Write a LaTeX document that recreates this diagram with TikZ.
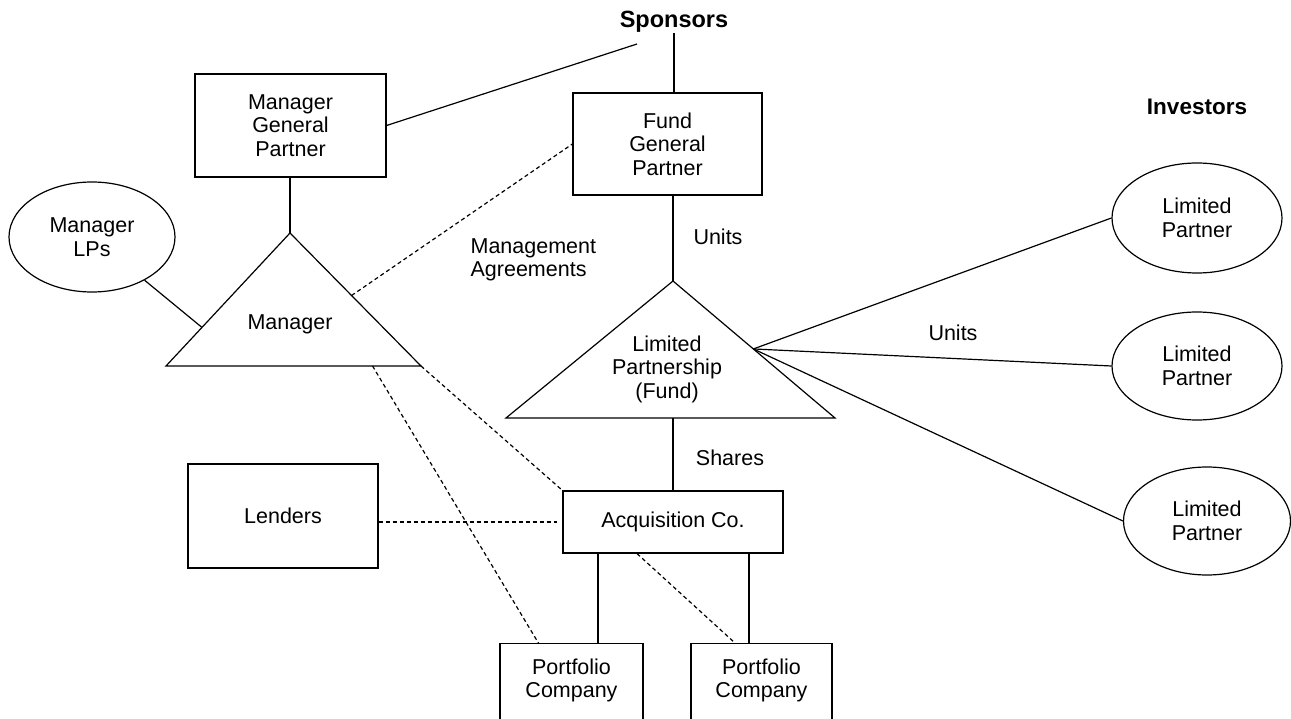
\documentclass[tikz,border=0pt]{standalone}
\usepackage{fontspec}
\setmainfont{Liberation Sans}
\usetikzlibrary{shapes,calc}

\begin{document}
\begin{tikzpicture}[x=1pt,y=-1pt,line width=1.2pt,
  every node/.style={font=\fontsize{21.5}{23.5}\selectfont,align=center,inner sep=0pt},
  box/.style={draw,rectangle},
  lp/.style={draw,ellipse},
  pc/.style={box,anchor=north,inner ysep=15pt,text depth=70pt},
  head/.style={font=\fontsize{23.5}{26}\selectfont\bfseries},
  agree/.style={dash pattern=on 4pt off 3pt}]
\useasboundingbox (0,0) rectangle (1291,719);
\clip (0,0) rectangle (1291,719);

\node[head] (sponsors) at (674,22) {Sponsors};
\node[head,font=\fontsize{22.5}{25}\selectfont\bfseries] (investors) at (1197,107) {Investors};

\node[box,minimum width=191pt,minimum height=103pt] (mgp) at (290.5,125.5) {Manager\\General\\Partner};
\node[box,minimum width=189pt,minimum height=102pt] (fgp) at (667.5,144) {Fund\\General\\Partner};
\node[lp,minimum width=166pt,minimum height=110pt] (mlp) at (92,237) {Manager\\LPs};
\node[box,minimum width=190pt,minimum height=104pt] (lenders) at (283,516) {Lenders};
\node[box,minimum width=220pt,minimum height=62pt] (acq) at (673,522) {Acquisition Co.};
\node[pc,minimum width=143pt] (pc1) at (571.5,643) {Portfolio\\Company};
\node[pc,minimum width=141pt] (pc2) at (761.5,643) {Portfolio\\Company};

\node[lp,minimum width=170pt,minimum height=110pt] (lp1) at (1197,218) {Limited\\Partner};
\node[lp,minimum width=170pt,minimum height=108pt] (lp2) at (1197,366) {Limited\\Partner};
\node[lp,minimum width=167pt,minimum height=108pt] (lp3) at (1207,521) {Limited\\Partner};

% the two triangles
\coordinate (mgrA) at (290,233);
\coordinate (mgrL) at (166,366);
\coordinate (mgrR) at (421,366);
\draw (mgrA) -- (mgrL) -- (mgrR) -- cycle;
\node (mgr) at (290,324) {Manager};

\coordinate (lpA) at (673,281);
\coordinate (lpL) at (506,418);
\coordinate (lpR) at (835,418);
\draw (lpA) -- (lpL) -- (lpR) -- cycle;
\node (fund) at (667,369) {Limited\\Partnership\\(Fund)};
\coordinate (lpE) at ($(lpA)!0.496!(lpR)$);

\node[anchor=west,align=left] (mgmt) at (470,260) {Management\\Agreements};
\node (units1) at (718,237) {Units};
\node (units2) at (953,333) {Units};
\node (shares) at (730,458) {Shares};

\coordinate (spL) at (637,44);
\draw (mgp.east) -- (spL);
\draw (sponsors.south) -- (sponsors.south |- fgp.north);
\draw (mgp.south -| mgrA) -- (mgrA);
\draw (fgp.south -| lpA) -- (lpA);
\draw (mlp) -- ($(mgrA)!0.71!(mgrL)$);
\draw (lpA |- lpL) -- (acq.north);
\foreach \n in {1,2,3}
  \draw (lpE) -- (lp\n.west);
\draw ([xshift=26.5pt]pc1.north) -- ([xshift=26.5pt]pc1.north |- acq.south);
\draw ([xshift=-12.5pt]pc2.north) -- ([xshift=-12.5pt]pc2.north |- acq.south);

\draw[agree] ($(mgrA)!0.47!(mgrR)$) -- (fgp.west);
\draw[agree] ($(mgrL)!0.81!(mgrR)$) -- ([xshift=39pt]pc1.north west);
\draw[agree] (mgrR) -- (acq.north west);
\draw[agree] (lenders.east |- acq.west) -- ([xshift=-5pt]acq.west);
\draw[agree] ([xshift=-36pt]acq.south) -- ([xshift=-26.5pt]pc2.north);
\end{tikzpicture}
\end{document}
